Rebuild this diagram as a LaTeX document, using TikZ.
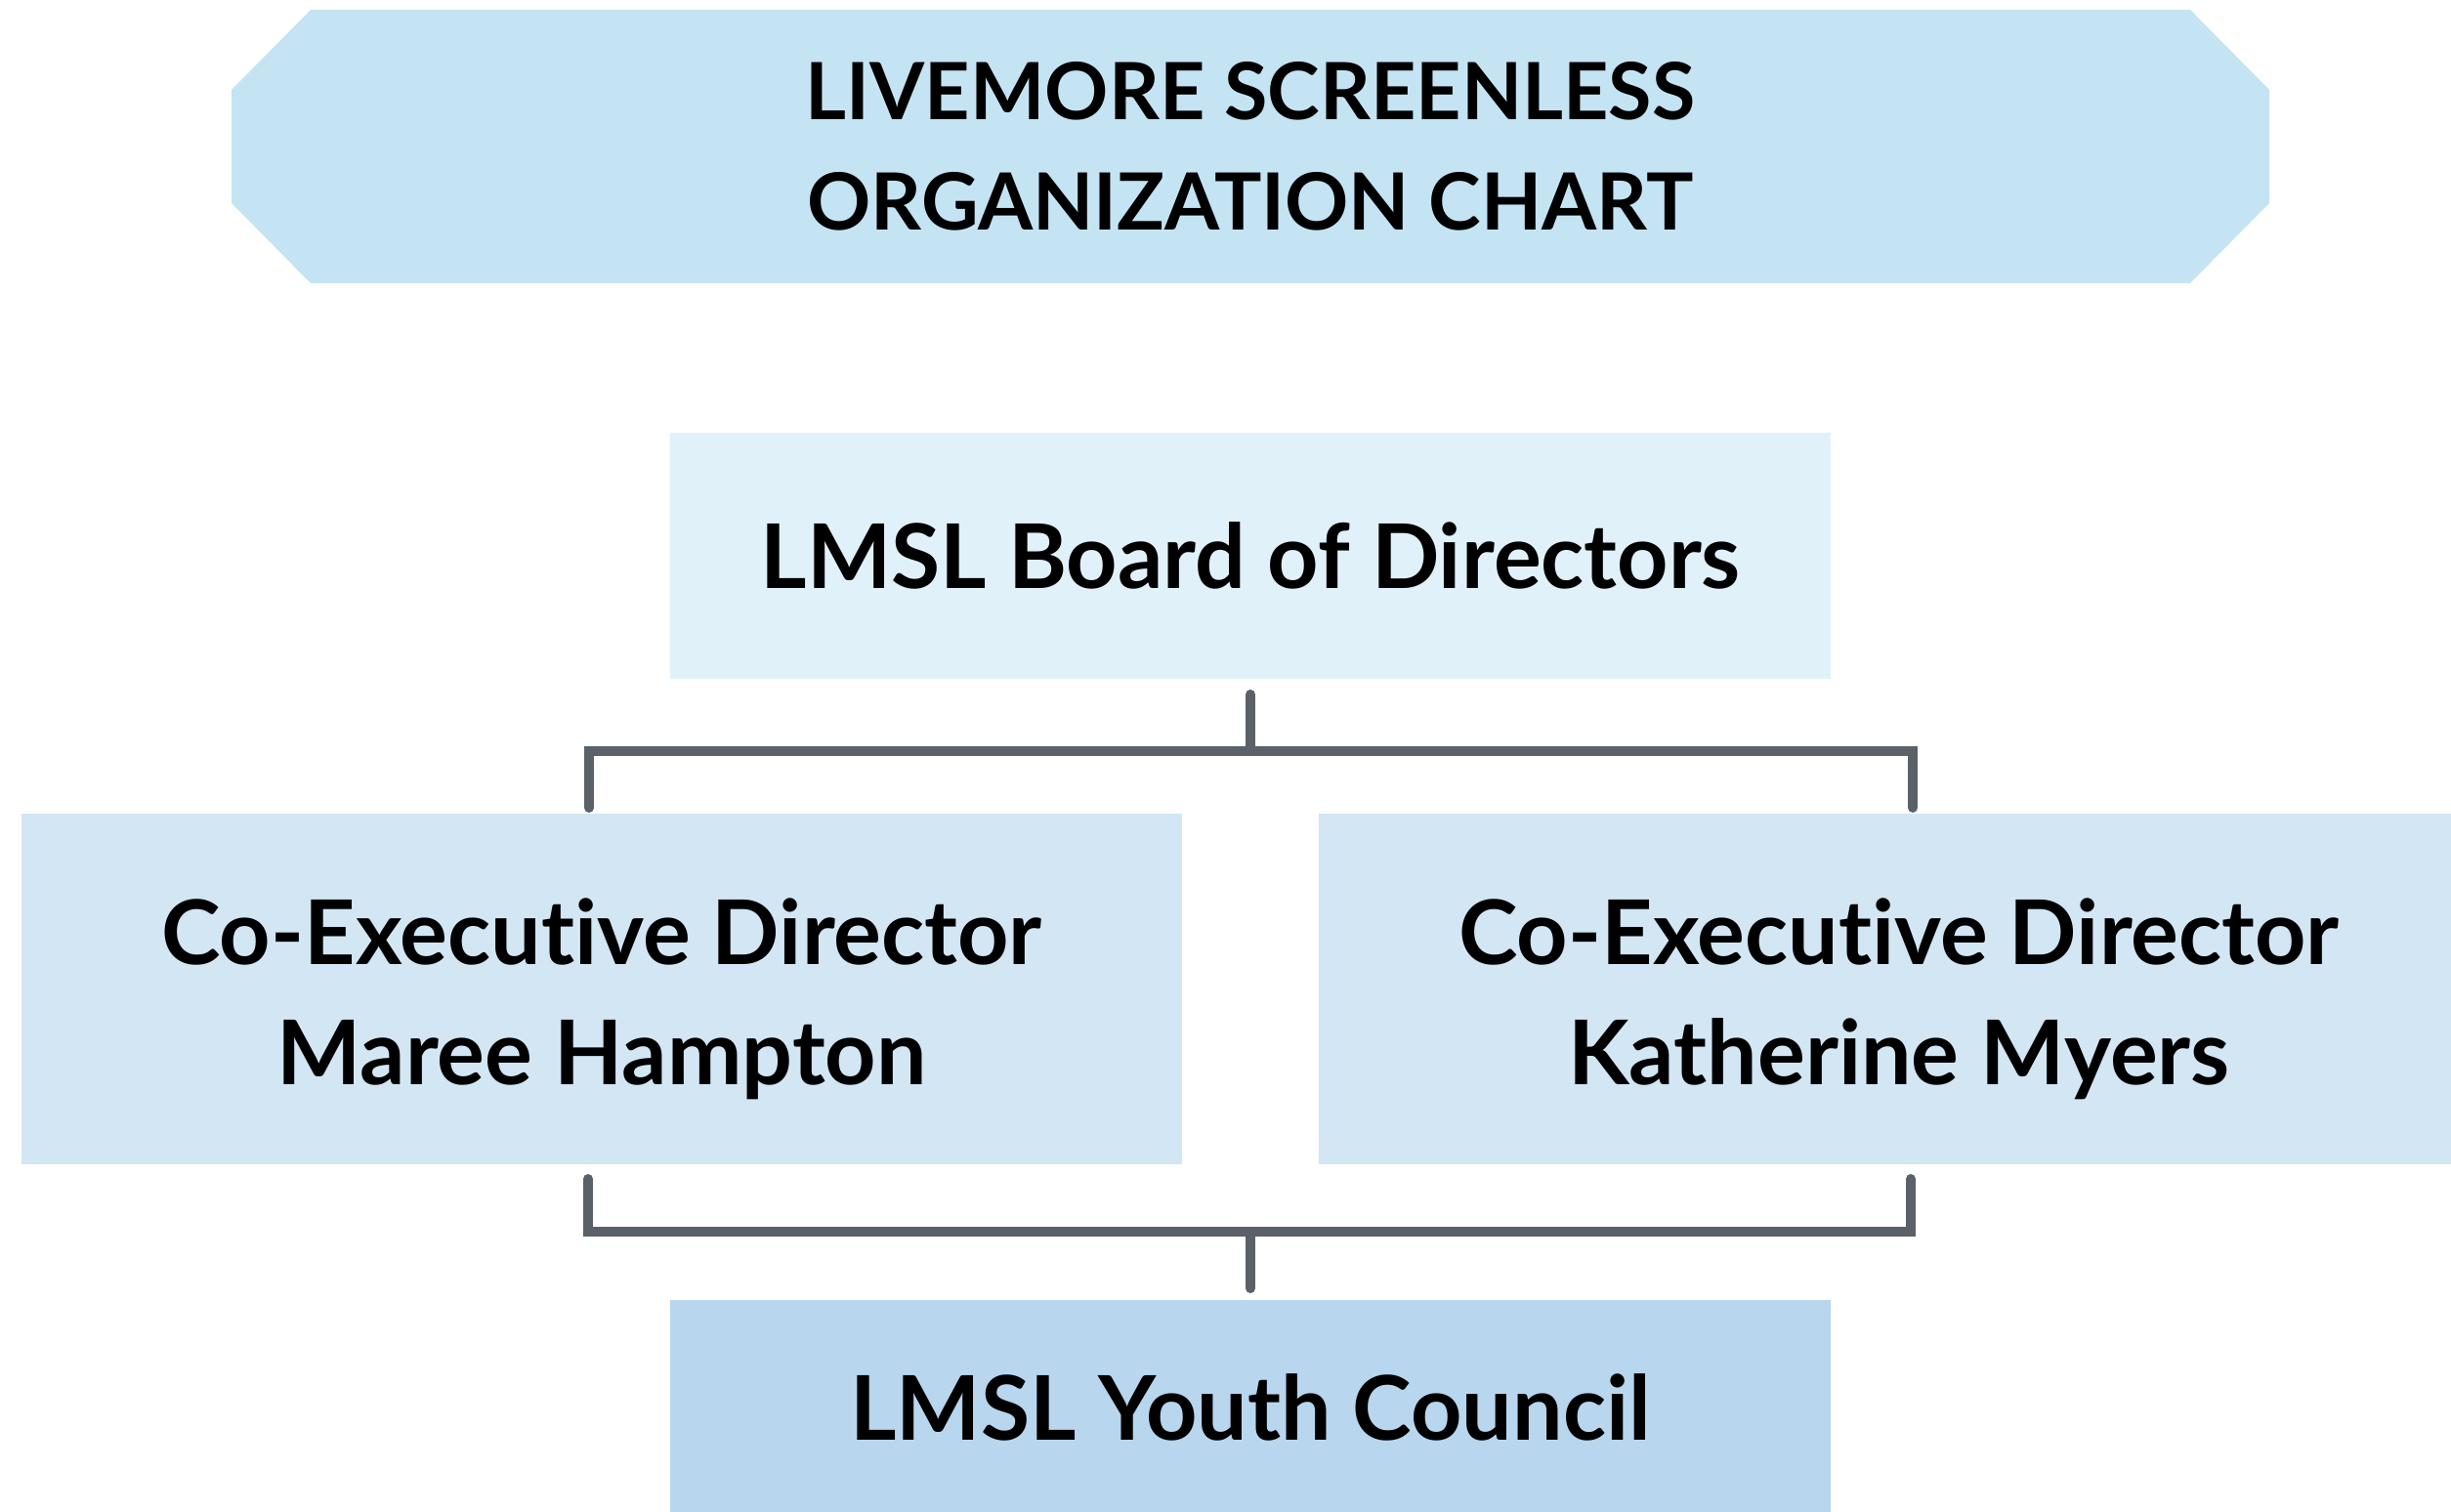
\documentclass[tikz,border=0pt]{standalone}
\usepackage{fontspec}
\setmainfont{Lato}[Ligatures={NoCommon,NoRare}]
\usepackage{xcolor}
\usepackage{tikz}

\definecolor{titlefill}{HTML}{C4E4F4}
\definecolor{boardfill}{HTML}{E0F1F9}
\definecolor{execfill}{HTML}{D2E6F4}
\definecolor{youthfill}{HTML}{B8D6EE}
\definecolor{linegray}{HTML}{5A6168}

\tikzset{
  orgbox/.style={rectangle, inner sep=0pt, align=center, text=black,
    minimum width=11.88cm, font=\bfseries\fontsize{26}{35}\selectfont},
  link/.style={draw=linegray, line width=2.85pt, line cap=round}
}

\begin{document}
\begin{tikzpicture}
  \useasboundingbox (0,0) rectangle (25.09,15.48);
  % title banner
  \fill[titlefill] (2.37,14.56)--(3.18,15.38)--(22.42,15.38)--(23.23,14.56)--(23.23,13.40)
    --(22.42,12.58)--(3.18,12.58)--(2.37,13.40)--cycle;
  \node[inner sep=0pt, align=center, font=\bfseries\fontsize{23}{32}\selectfont] (Title) at (12.80,13.98)
    {LIVEMORE SCREENLESS\\ORGANIZATION CHART};
  \node[orgbox, fill=boardfill, minimum height=2.52cm] (Board) at (12.80,9.79) {LMSL Board of Directors};
  \foreach \x/\z/\t in {6.16/CoEdM/Maree Hampton, 19.44/CoEdK/Katherine Myers}
  {
    \node[orgbox, fill=execfill, minimum height=3.59cm,
      label={[yshift=-0.1cm, align=center, font=\bfseries\fontsize{26}{35}\selectfont]center:Co-Executive Director\\\t}] (\z) at (\x, 5.35) {};
  }
  \node[orgbox, fill=youthfill, minimum height=2.20cm] (Youth) at (12.80,1.07) {LMSL Youth Council};
  % top bracket
  \coordinate (b1) at (12.80,8.37);
  \coordinate (j1) at (12.80,7.79);
  \coordinate (lt) at (6.03,7.79);
  \coordinate (rt) at (19.58,7.79);
  \coordinate (l1) at (6.03,7.21);
  \coordinate (r1) at (19.58,7.21);
  \path[link] (b1)--(j1);
  \path[link] (l1)--(lt)--(rt)--(r1);
  % bottom bracket
  \coordinate (l2) at (6.02,3.41);
  \coordinate (lb) at (6.02,2.87);
  \coordinate (rb) at (19.56,2.87);
  \coordinate (r2) at (19.56,3.41);
  \coordinate (j2) at (12.80,2.87);
  \coordinate (y2) at (12.80,2.29);
  \path[link] (l2)--(lb)--(rb)--(r2);
  \path[link] (j2)--(y2);
\end{tikzpicture}
\end{document}
